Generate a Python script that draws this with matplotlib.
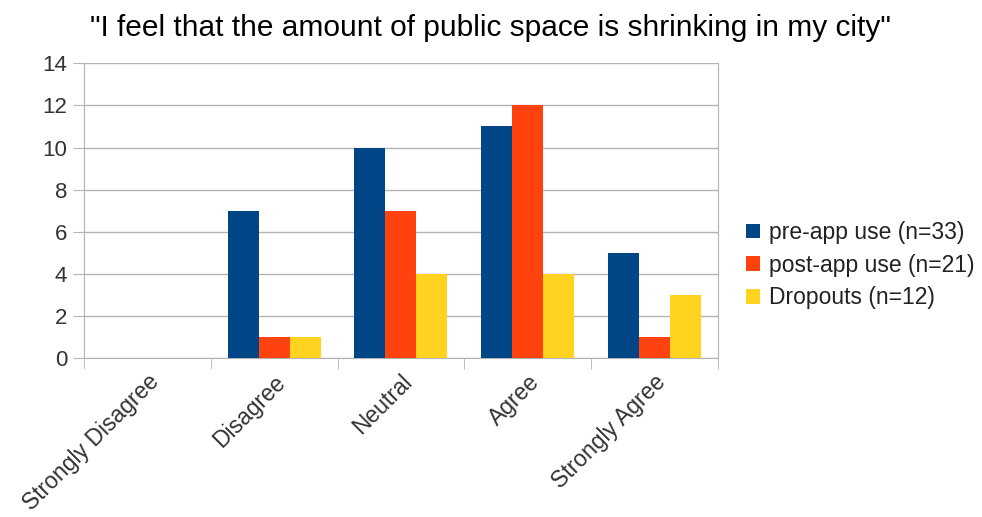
import numpy as np
import matplotlib
matplotlib.use('Agg')
import matplotlib.pyplot as plt
from matplotlib.patches import Patch

plt.rcParams['font.family'] = ['Liberation Sans', 'DejaVu Sans']

# Data
kategorier = ['Strongly Disagree', 'Disagree', 'Neutral', 'Agree', 'Strongly Agree']
serier = ['pre-app use (n=33)', 'post-app use (n=21)', 'Dropouts (n=12)']
pre_app = [0, 7, 10, 11, 5]
post_app = [0, 1, 7, 12, 1]
dropouts = [0, 1, 4, 4, 3]
farger = ['#004586', '#ff420e', '#ffd320']

fig = plt.figure(figsize=(9.82, 5.17), dpi=100)
ax = fig.add_axes([0.0855, 0.3075, 0.6455, 0.570])

x = np.arange(len(kategorier))
bredd = 0.245
for i, (varden, farg) in enumerate(zip([pre_app, post_app, dropouts], farger)):
    ax.bar(x + (i - 1) * bredd, varden, bredd, color=farg, zorder=3)

ax.set_xlim(-0.5, len(kategorier) - 0.5)
ax.set_ylim(0, 14)
ax.set_yticks(range(0, 15, 2))
ax.yaxis.grid(True, color='#b3b3b3', linewidth=1.0, zorder=0)
ax.tick_params(axis='y', length=8, color='#b3b3b3', labelsize=16, labelcolor='#333333', pad=4)

# kategorietiketter, roterade
ax.set_xticks(x)
ax.set_xticklabels(kategorier, rotation=45, ha='right', rotation_mode='anchor',
                   fontsize=16.5, color='#333333')
ax.tick_params(axis='x', length=0, pad=9)
# tickmarkeringar mellan kategorierna
ax.set_xticks(np.arange(-0.5, len(kategorier), 1), minor=True)
ax.tick_params(axis='x', which='minor', length=8, color='#b3b3b3')

ax.spines['top'].set_visible(False)
for s in ['left', 'right', 'bottom']:
    ax.spines[s].set_color('#b3b3b3')

fig.text(0.499, 0.946, '"I feel that the amount of public space is shrinking in my city"',
         ha='center', va='center', fontsize=21.5, color='#000000')

handtag = [Patch(facecolor=f, label=s) for s, f in zip(serier, farger)]
fig.legend(handles=handtag, loc='center left', bbox_to_anchor=(0.760, 0.487),
           frameon=False, fontsize=16.5, handlelength=0.6, handleheight=0.6,
           handletextpad=0.4, labelspacing=0.42, labelcolor='#222222',
           borderpad=0, borderaxespad=0)

fig.savefig('out.png', dpi=100)
